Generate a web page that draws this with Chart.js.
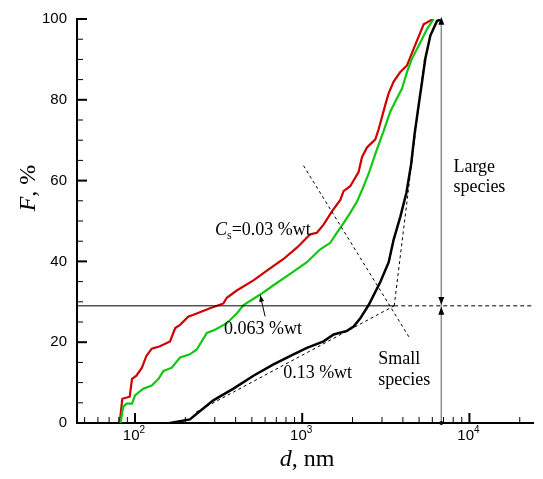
<!DOCTYPE html>
<html>
<head>
<meta charset="utf-8">
<script src="https://cdn.jsdelivr.net/npm/chart.js@4.4.1/dist/chart.umd.min.js"></script>
<style>
  body { margin: 0; background: #fff; }
  canvas { display: block; }
</style>
</head>
<body>
<canvas id="chart-f" width="543" height="479"></canvas>
<script>
// cumulative distributions F(d), d in nm, F in %
const redD = [81, 84, 93, 96, 102, 110, 117, 126, 141, 162, 174, 186, 208, 234, 281, 338, 354, 406, 511, 615, 773, 929, 1117, 1224, 1342, 1506, 1690, 1767, 1936, 2173, 2277, 2440, 2737, 2865, 3142, 3287, 3523, 3863, 4235, 4637, 5325, 6070];
const redF = [0, 6, 6.5, 10.9, 11.7, 13.7, 16.6, 18.4, 19, 20.2, 23.5, 24.3, 26.3, 27.1, 28.4, 29.6, 31, 32.8, 35.3, 37.7, 40.6, 43.4, 46.7, 47.1, 49.1, 52.4, 55.2, 57.4, 58.6, 62.1, 65.8, 68.2, 70.2, 72.7, 78.8, 81.6, 84.5, 86.9, 88.5, 92.6, 98.7, 100];

const greenD = [82, 85, 89, 96, 100, 112, 126, 138, 148, 166, 186, 213, 234, 269, 301, 354, 406, 446, 561, 673, 847, 1067, 1282, 1472, 1614, 1767, 1936, 2127, 2277, 2496, 2737, 3071, 3366, 3689, 3953, 4235, 4535, 4970, 5580, 6110];
const greenF = [0, 4, 4.8, 4.8, 6.8, 8.5, 9.3, 10.9, 12.9, 13.7, 16.2, 17, 18.2, 22.3, 23.1, 24.7, 27.1, 29.2, 31.8, 34.1, 36.9, 39.8, 43, 44.6, 47.1, 49.5, 52, 54.8, 57.6, 61.7, 66.6, 72.3, 77.1, 80.4, 82.8, 86.9, 90.2, 93.4, 97.5, 100];

const blackD = [162, 213, 234, 294, 388, 511, 673, 887, 1067, 1342, 1542, 1852, 2029, 2225, 2496, 2931, 3290, 3523, 3863, 4200, 4480, 4700, 4975, 5210, 5450, 5840, 6400, 6790];
const blackF = [0, 0.9, 2.3, 5.6, 8.5, 11.7, 14.5, 17, 18.6, 20.2, 21.9, 22.8, 23.9, 25.9, 29.2, 34.9, 39.8, 45.4, 51.1, 57, 64, 71.5, 78.8, 84.5, 90.2, 95.9, 99.5, 100];

// construction lines
const lowFitD = [232, 3550];
const lowFitF = [2.7, 29];
const steepFitD = [3550, 5378];
const steepFitF = [29, 90];
const crossD = [1018, 4395];
const crossF = [63.7, 21];
const levelD = [45, 3550];
const levelDashD = [3550, 24000];
const levelF = [29, 29];
const splitD = [6790, 6790];
const largeF = [29, 100];
const smallF = [0, 29];

// axes
const xTicks = [50, 60, 70, 80, 90, 100, 200, 300, 400, 500, 600, 700, 800, 900, 1000, 2000, 3000, 4000, 5000, 6000, 7000, 8000, 9000, 10000, 20000];
const xMajor = [100, 1000, 10000];
const xExp = ["2", "3", "4"];
const yTicks = [0, 5, 10, 15, 20, 25, 30, 35, 40, 45, 50, 55, 60, 65, 70, 75, 80, 85, 90, 95, 100];
const yMajor = [0, 20, 40, 60, 80, 100];

const serif = '"Liberation Serif", "Times New Roman", serif';
const sans = '"Liberation Sans", Arial, sans-serif';

function pts(ds, fs) {
    return ds.map((d, i) => ({ x: d, y: fs[i] }));
}

function line(ds, fs, color, width, dash) {
    return {
        data: pts(ds, fs),
        showLine: true,
        borderColor: color,
        borderWidth: width,
        borderDash: dash || [],
        pointRadius: 0,
        tension: 0,
        fill: false,
    };
}

// draws text made of pieces with different fonts
function rich(ctx, parts, x, y, align) {
    let w = 0;
    parts.forEach((p) => {
        ctx.font = p.font;
        w += ctx.measureText(p.t).width;
    });
    let cx = align === "center" ? x - w / 2 : x;
    ctx.textAlign = "left";
    ctx.textBaseline = "alphabetic";
    parts.forEach((p) => {
        ctx.font = p.font;
        ctx.fillText(p.t, cx, y + (p.dy || 0));
        cx += ctx.measureText(p.t).width;
    });
}

function head(ctx, x, y, dir, s) {
    // dir: 1 = pointing up, -1 = pointing down
    ctx.beginPath();
    ctx.moveTo(x, y);
    ctx.lineTo(x - s / 2, y + dir * s * 1.3);
    ctx.lineTo(x + s / 2, y + dir * s * 1.3);
    ctx.closePath();
    ctx.fill();
}

const decor = {
    id: "decor",
    afterDraw(chart) {
        const { ctx, scales: { x, y }, chartArea: a } = chart;
        ctx.save();
        ctx.strokeStyle = "#000";
        ctx.fillStyle = "#000";

        // inward tick marks
        xTicks.forEach((v) => {
            const px = x.getPixelForValue(v);
            const major = xMajor.includes(v);
            ctx.lineWidth = major ? 2 : 1;
            ctx.beginPath();
            ctx.moveTo(px, a.bottom);
            ctx.lineTo(px, a.bottom - (major ? 10 : 6));
            ctx.stroke();
        });
        yTicks.forEach((v) => {
            const py = y.getPixelForValue(v);
            const major = yMajor.includes(v);
            ctx.lineWidth = major ? 2 : 1;
            ctx.beginPath();
            ctx.moveTo(a.left, py);
            ctx.lineTo(a.left + (major ? 10 : 6), py);
            ctx.stroke();
        });

        // x tick labels 10^n
        xMajor.forEach((v, i) => {
            const px = x.getPixelForValue(v);
            rich(ctx, [
                { t: "10", font: "15px " + sans },
                { t: xExp[i], font: "10px " + sans, dy: -7 },
            ], px - 1, a.bottom + 17, "center");
        });

        // axis titles
        rich(ctx, [
            { t: "d", font: "italic 24px " + serif },
            { t: ", nm", font: "24px " + serif },
        ], (a.left + a.right) / 2 + 2, 466, "center");
        ctx.save();
        ctx.translate(35, 188);
        ctx.rotate(-Math.PI / 2);
        rich(ctx, [
            { t: "F", font: "italic 24px " + serif },
            { t: ", %", font: "24px " + serif },
        ], 0, 0, "center");
        ctx.restore();

        // labels
        const f18 = "18px " + serif;
        const at = (d, F) => [x.getPixelForValue(d), y.getPixelForValue(F)];
        let p = at(8020, 62.2);
        rich(ctx, [{ t: "Large", font: f18 }], p[0], p[1]);
        p = at(8020, 57.1);
        rich(ctx, [{ t: "species", font: f18 }], p[0], p[1]);
        p = at(2850, 14.6);
        rich(ctx, [{ t: "Small", font: f18 }], p[0], p[1]);
        p = at(2850, 9.3);
        rich(ctx, [{ t: "species", font: f18 }], p[0], p[1]);
        p = at(301, 46.6);
        rich(ctx, [
            { t: "C", font: "italic " + f18 },
            { t: "s", font: "12px " + serif, dy: 4 },
            { t: "=0.03 %wt", font: f18 },
        ], p[0], p[1]);
        p = at(341, 22);
        rich(ctx, [{ t: "0.063 %wt", font: f18 }], p[0], p[1]);
        p = at(769, 11.2);
        rich(ctx, [{ t: "0.13 %wt", font: f18 }], p[0], p[1]);

        // pointer to the green curve
        const p1 = at(600, 26.4);
        const p2 = at(561, 31.6);
        ctx.lineWidth = 1;
        ctx.beginPath();
        ctx.moveTo(p1[0], p1[1]);
        ctx.lineTo(p2[0], p2[1]);
        ctx.stroke();
        ctx.save();
        ctx.translate(p2[0], p2[1]);
        ctx.rotate(Math.atan2(p2[0] - p1[0], p1[1] - p2[1]));
        head(ctx, 0, 0, 1, 5);
        ctx.restore();

        // arrow heads on the split line
        const sx = x.getPixelForValue(splitD[0]);
        const top = y.getPixelForValue(100);
        const mid = y.getPixelForValue(29);
        head(ctx, sx, top - 2, 1, 6);
        head(ctx, sx, mid - 1, -1, 6);
        head(ctx, sx, mid + 1, 1, 6);
        ctx.beginPath();
        ctx.arc(sx, a.bottom, 2, 0, Math.PI * 2);
        ctx.fill();
        ctx.restore();
    },
};

const ctxF = document.getElementById("chart-f");
new Chart(ctxF, {
    type: "scatter",
    data: {
        datasets: [
            line(levelD, levelF, "#000", 1),
            line(levelDashD, levelF, "#000", 1, [4, 3]),
            line(lowFitD, lowFitF, "#000", 1, [3, 3]),
            line(steepFitD, steepFitF, "#000", 1, [3, 3]),
            line(crossD, crossF, "#000", 1, [3, 3]),
            line(splitD, largeF, "#8c8c8c", 1.5),
            line(splitD, smallF, "#8c8c8c", 1.5),
            line(blackD, blackF, "#000", 2.5),
            line(greenD, greenF, "#10c810", 2.2),
            line(redD, redF, "#d00000", 2.2),
        ],
    },
    options: {
        responsive: false,
        animation: false,
        events: [],
        layout: { padding: { top: 13, right: 10, left: 0, bottom: 0 } },
        plugins: {
            legend: { display: false },
            tooltip: { enabled: false },
        },
        scales: {
            x: {
                type: "logarithmic",
                min: 45,
                max: 24000,
                bounds: "data",
                grid: { display: false, drawTicks: false },
                border: { display: true, color: "#000", width: 2 },
                ticks: { display: false },
                afterFit: (s) => { s.height = 56; },
            },
            y: {
                min: 0,
                max: 100,
                grid: { display: false, drawTicks: false },
                border: { display: true, color: "#000", width: 2 },
                ticks: {
                    stepSize: 5,
                    autoSkip: false,
                    padding: 10,
                    color: "#000",
                    font: { family: sans, size: 15 },
                    callback: (v) => (yMajor.includes(v) ? v : ""),
                },
                afterFit: (s) => { s.width = 77; },
            },
        },
    },
    plugins: [decor],
});
</script>
</body>
</html>
